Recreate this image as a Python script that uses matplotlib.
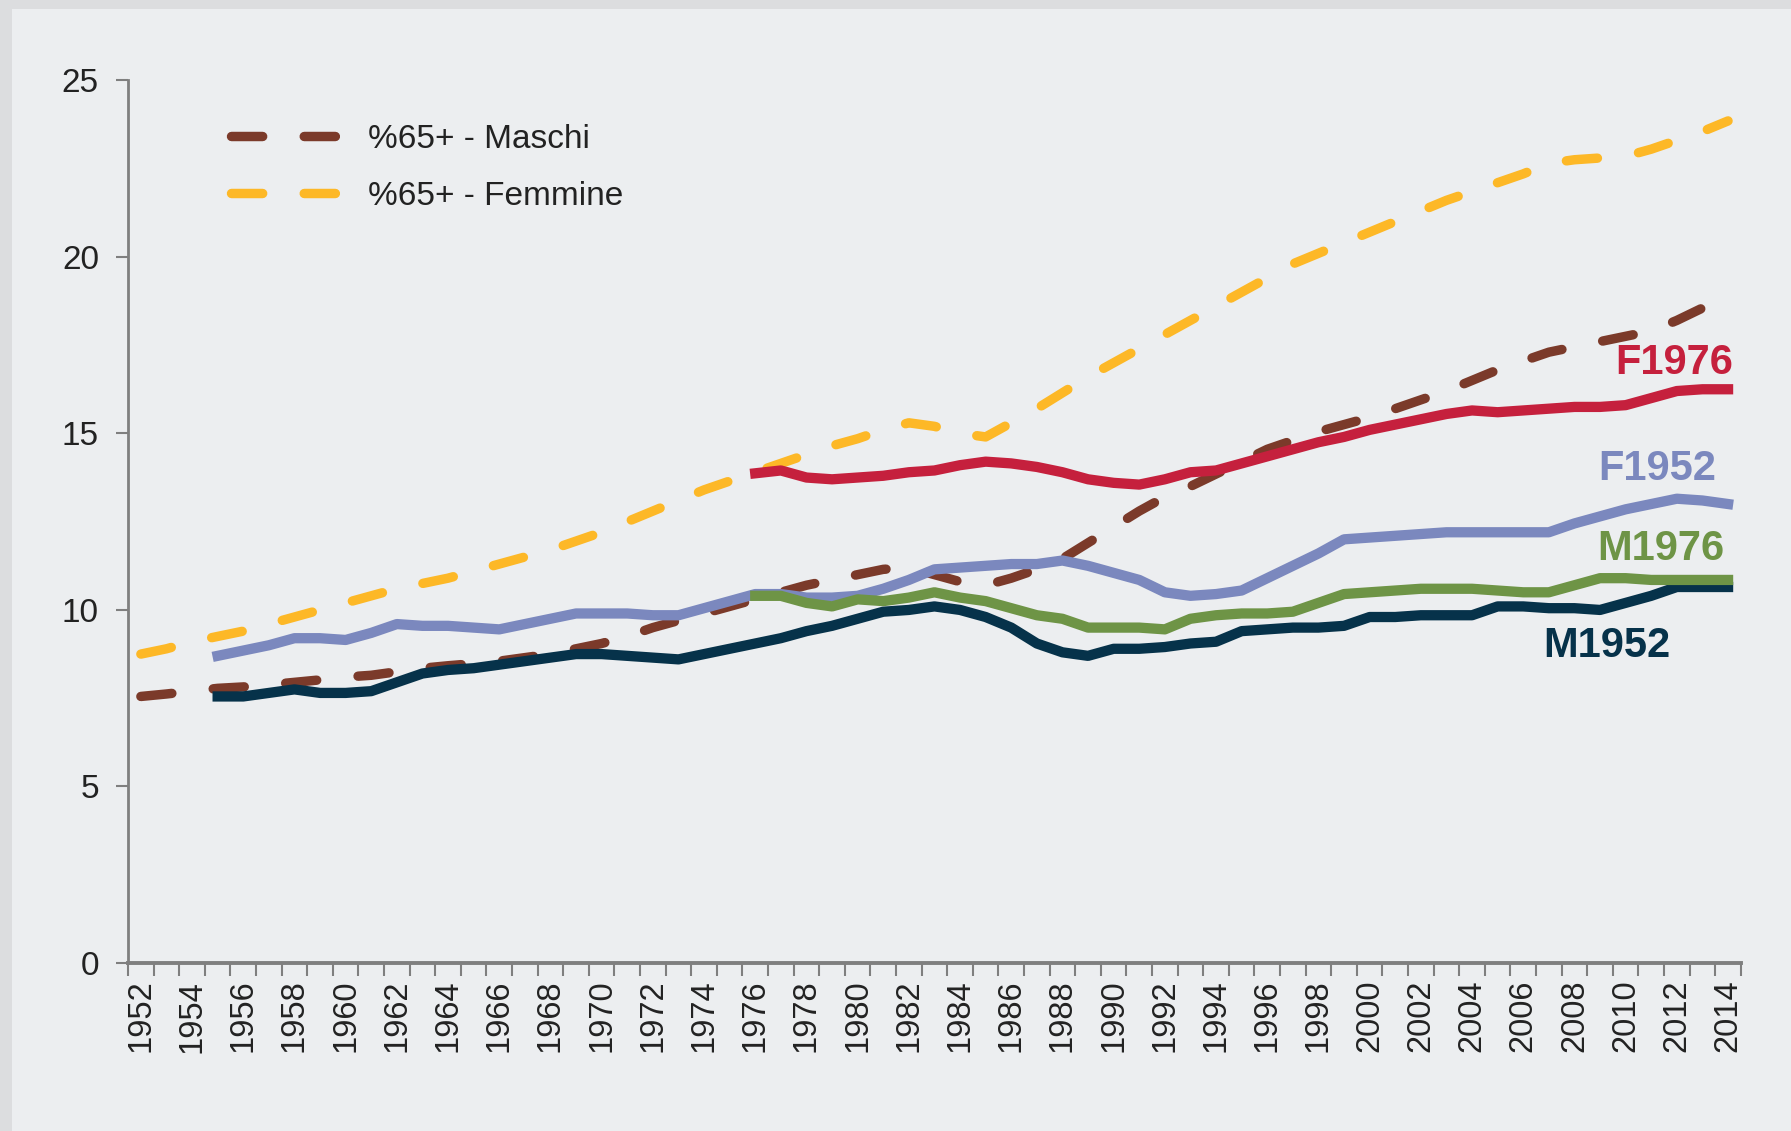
import matplotlib.pyplot as plt
import numpy as np
from matplotlib.patches import Rectangle

plt.rcParams['font.family'] = ['Liberation Sans', 'DejaVu Sans']

years = list(range(1952, 2015))

# %65+ share by sex (dashed)
maschi = [7.55, 7.62, 7.70, 7.78, 7.82, 7.88, 7.95, 8.02, 8.10, 8.15,
          8.25, 8.35, 8.42, 8.48, 8.55, 8.65, 8.75, 8.90, 9.05, 9.25,
          9.50, 9.70, 9.90, 10.10, 10.30, 10.50, 10.70, 10.85, 11.00, 11.15,
          11.20, 11.00, 10.80, 10.70, 10.90, 11.15, 11.45, 11.90, 12.35, 12.80,
          13.20, 13.50, 13.85, 14.20, 14.55, 14.80, 15.05, 15.25, 15.45, 15.70,
          15.95, 16.20, 16.50, 16.80, 17.05, 17.30, 17.45, 17.60, 17.75, 17.90,
          18.20, 18.55, 18.90]
femmine = [8.75, 8.90, 9.10, 9.25, 9.40, 9.60, 9.80, 10.00, 10.20, 10.40,
           10.60, 10.75, 10.90, 11.10, 11.30, 11.50, 11.70, 11.95, 12.20, 12.50,
           12.80, 13.10, 13.40, 13.65, 13.90, 14.15, 14.40, 14.65, 14.85, 15.10,
           15.30, 15.20, 15.00, 14.90, 15.30, 15.70, 16.15, 16.60, 17.00, 17.40,
           17.80, 18.20, 18.60, 19.00, 19.40, 19.80, 20.10, 20.40, 20.70, 21.00,
           21.30, 21.60, 21.85, 22.10, 22.35, 22.65, 22.75, 22.80, 22.85, 23.05,
           23.30, 23.55, 23.85]

# cohort 1952, from 1955
m1952_start = 1955
m1952 = [7.55, 7.55, 7.65, 7.75, 7.65, 7.65, 7.70, 7.95, 8.20, 8.30,
         8.35, 8.45, 8.55, 8.65, 8.75, 8.75, 8.70, 8.65, 8.60, 8.75,
         8.90, 9.05, 9.20, 9.40, 9.55, 9.75, 9.95, 10.00, 10.10, 10.00,
         9.80, 9.50, 9.05, 8.80, 8.70, 8.90, 8.90, 8.95, 9.05, 9.10,
         9.40, 9.45, 9.50, 9.50, 9.55, 9.80, 9.80, 9.85, 9.85, 9.85,
         10.10, 10.10, 10.05, 10.05, 10.00, 10.20, 10.40, 10.65, 10.65, 10.65]
f1952 = [8.70, 8.85, 9.00, 9.20, 9.20, 9.15, 9.35, 9.60, 9.55, 9.55,
         9.50, 9.45, 9.60, 9.75, 9.90, 9.90, 9.90, 9.85, 9.85, 10.05,
         10.25, 10.45, 10.45, 10.35, 10.35, 10.40, 10.60, 10.85, 11.15, 11.20,
         11.25, 11.30, 11.30, 11.40, 11.25, 11.05, 10.85, 10.50, 10.40, 10.45,
         10.55, 10.90, 11.25, 11.60, 12.00, 12.05, 12.10, 12.15, 12.20, 12.20,
         12.20, 12.20, 12.20, 12.45, 12.65, 12.85, 13.00, 13.15, 13.10, 13.00]

# cohort 1976, from 1976
c1976_start = 1976
f1976 = [13.87, 13.95, 13.75, 13.70, 13.75, 13.80, 13.90, 13.95, 14.10, 14.20,
         14.15, 14.05, 13.90, 13.70, 13.60, 13.55, 13.70, 13.90, 13.95, 14.15,
         14.35, 14.55, 14.75, 14.90, 15.10, 15.25, 15.40, 15.55, 15.65, 15.60,
         15.65, 15.70, 15.75, 15.75, 15.80, 16.00, 16.20, 16.25, 16.25]
m1976 = [10.40, 10.40, 10.20, 10.10, 10.30, 10.25, 10.35, 10.50, 10.35, 10.25,
         10.05, 9.85, 9.75, 9.50, 9.50, 9.50, 9.45, 9.75, 9.85, 9.90,
         9.90, 9.95, 10.20, 10.45, 10.50, 10.55, 10.60, 10.60, 10.60, 10.55,
         10.50, 10.50, 10.70, 10.90, 10.90, 10.85, 10.85, 10.85, 10.85]

col_maschi = '#7B3A2A'
col_femmine = '#FDB827'
col_m1952 = '#06324A'
col_f1952 = '#7B88BE'
col_f1976 = '#C5203D'
col_m1976 = '#6E9446'

fig = plt.figure(figsize=(17.91, 11.31), dpi=100)
fig.patch.set_facecolor('#DCDDDF')
fig.patches.append(Rectangle((0.0065, 0.0), 1.0, 0.992, transform=fig.transFigure,
                             facecolor='#ECEEF0', edgecolor='none', zorder=-10))
ax = fig.add_axes([0.0715, 0.1485, 0.9005, 0.7805])
ax.set_facecolor('none')

x_all = np.arange(len(years))
x_m52 = np.arange(len(m1952)) + (m1952_start - years[0])
x_c76 = np.arange(len(f1976)) + (c1976_start - years[0])

dash = (0, (3.3, 4.4))
lw_d = 6.8
lw = 7.4
ax.plot(x_all, maschi, color=col_maschi, lw=lw_d, linestyle=dash,
        dash_capstyle='round', label='%65+ - Maschi', zorder=3)
ax.plot(x_all, femmine, color=col_femmine, lw=lw_d, linestyle=dash,
        dash_capstyle='round', label='%65+ - Femmine', zorder=3)
ax.plot(x_m52, f1952, color=col_f1952, lw=lw, solid_joinstyle='round', zorder=4)
ax.plot(x_m52, m1952, color=col_m1952, lw=lw, solid_joinstyle='round', zorder=5)
ax.plot(x_c76, m1976, color=col_m1976, lw=lw, solid_joinstyle='round', zorder=6)
ax.plot(x_c76, f1976, color=col_f1976, lw=lw, solid_joinstyle='round', zorder=6)

# series labels
lab_kw = dict(fontsize=30, fontweight='bold', ha='right', va='center')
ax.text(62.2, 16.98, 'F1976', color=col_f1976, **lab_kw)
ax.text(61.55, 14.0, 'F1952', color=col_f1952, **lab_kw)
ax.text(61.86, 11.74, 'M1976', color=col_m1976, **lab_kw)
ax.text(59.76, 8.99, 'M1952', color=col_m1952, **lab_kw)

ax.set_xlim(-0.5, len(years) - 0.5)
ax.set_ylim(0, 25)
ax.set_yticks([0, 5, 10, 15, 20, 25])

ax.set_xticks(np.arange(-0.5, len(years), 1.0))
ax.set_xticks(x_all[::2], minor=True)
ax.set_xticklabels([str(y) for y in years[::2]], minor=True, rotation=90)
ax.tick_params(axis='x', which='major', length=9, width=1.5, color='#7F7F7F',
               labelbottom=False)
ax.tick_params(axis='x', which='minor', length=0, labelsize=23.5, pad=12,
               labelcolor='#222222')
ax.tick_params(axis='y', length=9, width=1.5, color='#7F7F7F', labelsize=24,
               labelcolor='#222222', pad=12)

for s in ['top', 'right']:
    ax.spines[s].set_visible(False)
ax.spines['left'].set_color('#7F7F7F')
ax.spines['left'].set_linewidth(2)
ax.spines['bottom'].set_color('#7F7F7F')
ax.spines['bottom'].set_linewidth(2.8)

leg = ax.legend(loc='upper left', bbox_to_anchor=(0.045, 0.985), frameon=False,
                fontsize=24, handlelength=3.3, handletextpad=0.82,
                labelspacing=0.78, labelcolor='#222222')

fig.savefig('out.png', dpi=100, facecolor=fig.get_facecolor())
